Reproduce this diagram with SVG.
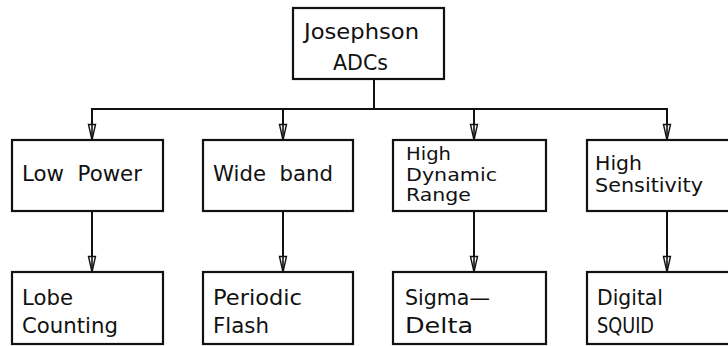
<svg xmlns="http://www.w3.org/2000/svg" width="728" height="346" viewBox="0 0 728 346">
<defs>
<marker id="arr" markerUnits="userSpaceOnUse" viewBox="-1 -1 10 18" refX="4" refY="16" markerWidth="10" markerHeight="18" orient="0">
<path d="M0.5,0.5 L4,16 L7.5,0.5 Z" fill="#fff" stroke="#111" stroke-width="1.4"/>
<line x1="4" y1="0" x2="4" y2="16" stroke="#111" stroke-width="1.6"/>
</marker>
<style>
rect{fill:#fff;stroke:#111;stroke-width:2.2}
text{font-family:"DejaVu Sans","Liberation Sans",sans-serif;font-size:21px;fill:#111}
.s{font-size:18px}
.m{font-size:19px}
.c line{stroke:#111;stroke-width:2}
</style>
</defs>
<rect x="0" y="0" width="728" height="346" style="fill:#fff;stroke:none"/>
<g class="c" id="connectors">
<line x1="374" y1="79" x2="374" y2="109"/>
<line x1="91" y1="109" x2="668" y2="109"/>
<line x1="92" y1="109" x2="92" y2="140" marker-end="url(#arr)"/>
<line x1="283" y1="109" x2="283" y2="140" marker-end="url(#arr)"/>
<line x1="474" y1="109" x2="474" y2="140" marker-end="url(#arr)"/>
<line x1="667" y1="109" x2="667" y2="140" marker-end="url(#arr)"/>
<line x1="92" y1="211" x2="92" y2="272" marker-end="url(#arr)"/>
<line x1="283" y1="211" x2="283" y2="272" marker-end="url(#arr)"/>
<line x1="474" y1="211" x2="474" y2="272" marker-end="url(#arr)"/>
<line x1="667" y1="211" x2="667" y2="272" marker-end="url(#arr)"/>
</g>
<g id="josephson">
<rect x="293" y="8" width="151" height="71"/>
<text x="304" y="39" style="font-size:22px" textLength="115" lengthAdjust="spacingAndGlyphs">Josephson</text>
<text x="333" y="70" style="font-size:22px" textLength="55" lengthAdjust="spacingAndGlyphs">ADCs</text>
</g>
<g id="lowpower">
<rect x="12" y="140" width="151" height="71"/>
<text x="22" y="181" textLength="120" lengthAdjust="spacingAndGlyphs" xml:space="preserve">Low  Power</text>
</g>
<g id="wideband">
<rect x="203" y="140" width="150" height="71"/>
<text x="213" y="181" textLength="120" lengthAdjust="spacingAndGlyphs" xml:space="preserve">Wide  band</text>
</g>
<g id="highdynamic">
<rect x="393" y="140" width="153" height="71"/>
<text class="s" x="406" y="160" textLength="45" lengthAdjust="spacingAndGlyphs">High</text>
<text class="s" x="406" y="181" textLength="91" lengthAdjust="spacingAndGlyphs">Dynamic</text>
<text class="s" x="406" y="201" textLength="65" lengthAdjust="spacingAndGlyphs">Range</text>
</g>
<g id="highsens">
<rect x="587" y="140" width="160" height="71"/>
<text class="m" x="595" y="170" textLength="47" lengthAdjust="spacingAndGlyphs">High</text>
<text class="m" x="595" y="192" textLength="108" lengthAdjust="spacingAndGlyphs">Sensitivity</text>
</g>
<g id="lobe">
<rect x="12" y="272" width="151" height="72"/>
<text x="22" y="305" textLength="51" lengthAdjust="spacingAndGlyphs">Lobe</text>
<text x="22" y="333" textLength="96" lengthAdjust="spacingAndGlyphs">Counting</text>
</g>
<g id="periodic">
<rect x="203" y="272" width="150" height="72"/>
<text x="213" y="305" textLength="89" lengthAdjust="spacingAndGlyphs">Periodic</text>
<text x="213" y="333" textLength="56" lengthAdjust="spacingAndGlyphs">Flash</text>
</g>
<g id="sigma">
<rect x="393" y="272" width="153" height="72"/>
<text x="405" y="305" textLength="85" lengthAdjust="spacingAndGlyphs">Sigma—</text>
<text x="405" y="333" textLength="68" lengthAdjust="spacingAndGlyphs">Delta</text>
</g>
<g id="squid">
<rect x="587" y="272" width="160" height="72"/>
<text x="597" y="305" textLength="66" lengthAdjust="spacingAndGlyphs">Digital</text>
<text x="597" y="333" textLength="57" lengthAdjust="spacingAndGlyphs">SQUID</text>
</g>
</svg>
